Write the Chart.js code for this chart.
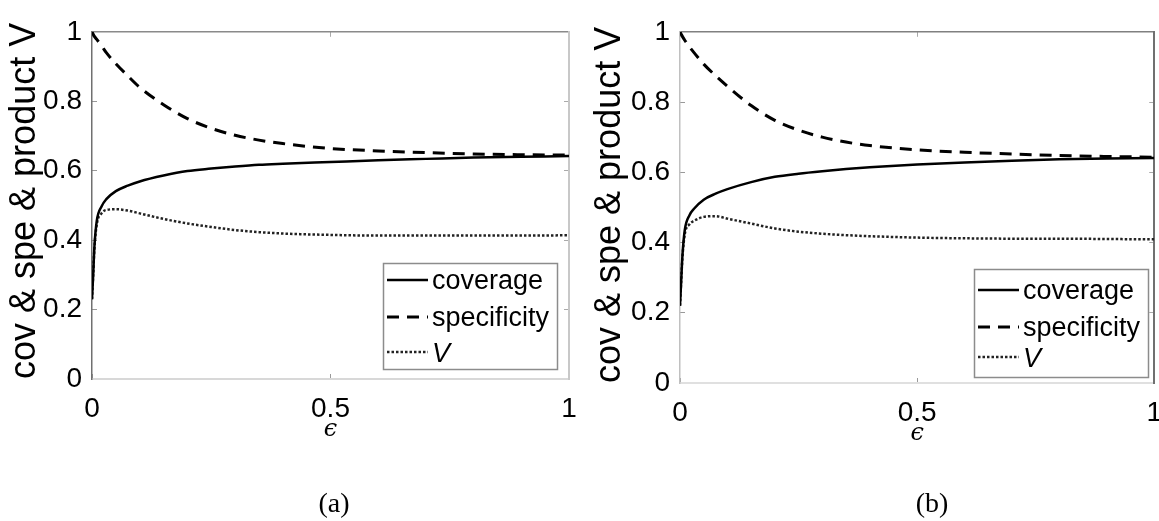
<!DOCTYPE html>
<html>
<head>
<meta charset="utf-8">
<script src="https://cdn.jsdelivr.net/npm/chart.js@4.4.1/dist/chart.umd.min.js"></script>
<style>
  html, body { margin: 0; padding: 0; background: #fff; overflow: hidden; width: 1159px; height: 521px; }
  canvas { position: absolute; top: 0; }
  #ca { left: 0; }
  #cb { left: 580px; }
  .cap { position: absolute; top: 489px; font-family: "Liberation Serif", "Times New Roman", serif; font-size: 28px; line-height: 1; transform: translateX(-50%); }
</style>
</head>
<body>
<canvas id="ca" width="600" height="521"></canvas>
<canvas id="cb" width="600" height="521"></canvas>
<div class="cap" style="left:334px">(a)</div>
<div class="cap" style="left:932px">(b)</div>
<script>
// epsilon values shared by both panels
var eps = [0, 0.0025, 0.005, 0.01, 0.02, 0.03, 0.05, 0.075, 0.1, 0.15, 0.2, 0.25, 0.3, 0.35, 0.4, 0.5, 0.6, 0.7, 0.8, 0.9, 1];

// panel (a)
var coverageA    = [0.23, 0.30, 0.38, 0.455, 0.497, 0.518, 0.541, 0.557, 0.569, 0.586, 0.599, 0.606, 0.612, 0.617, 0.620, 0.625, 0.630, 0.634, 0.638, 0.640, 0.642];
var specificityA = [1.0, 0.993, 0.987, 0.978, 0.96, 0.94, 0.908, 0.873, 0.84, 0.79, 0.75, 0.722, 0.702, 0.688, 0.678, 0.664, 0.657, 0.652, 0.648, 0.646, 0.645];
var productA     = [0.23, 0.30, 0.375, 0.445, 0.477, 0.487, 0.489, 0.485, 0.477, 0.461, 0.448, 0.438, 0.429, 0.423, 0.419, 0.415, 0.413, 0.413, 0.413, 0.413, 0.414];

// panel (b)
var coverageB    = [0.22, 0.29, 0.36, 0.435, 0.478, 0.497, 0.522, 0.539, 0.552, 0.572, 0.587, 0.596, 0.603, 0.609, 0.614, 0.622, 0.628, 0.633, 0.637, 0.639, 0.641];
var specificityB = [1.0, 0.993, 0.987, 0.976, 0.957, 0.94, 0.908, 0.875, 0.845, 0.79, 0.748, 0.72, 0.70, 0.686, 0.676, 0.664, 0.657, 0.652, 0.648, 0.645, 0.643];
var productB     = [0.22, 0.29, 0.355, 0.423, 0.452, 0.462, 0.473, 0.475, 0.468, 0.454, 0.440, 0.431, 0.425, 0.421, 0.418, 0.414, 0.412, 0.411, 0.411, 0.410, 0.409];

var yTicks = [0, 0.2, 0.4, 0.6, 0.8, 1];
var xTicks = [0, 0.5, 1];

var FONT = '"Liberation Sans", Arial, Helvetica, sans-serif';

function pts(vals) {
    return eps.map(function (e, i) { return { x: e, y: vals[i] }; });
}

function fmt(v) {
    return String(v);
}

// legend box drawn inside the plot area, MATLAB style
var boxLegend = {
    id: 'boxLegend',
    afterDraw: function (chart, args, opts) {
        var ctx = chart.ctx, area = chart.chartArea;
        var x = Math.round(area.right - opts.right - opts.width);
        var y = Math.round(area.bottom - opts.bottom - opts.height);
        ctx.save();
        ctx.fillStyle = '#fff';
        ctx.fillRect(x, y, opts.width, opts.height);
        ctx.strokeStyle = '#8c8c8c';
        ctx.lineWidth = 1.5;
        ctx.strokeRect(x + 0.5, y + 0.5, opts.width, opts.height);
        chart.data.datasets.forEach(function (ds, i) {
            var ry = y + opts.rows[i];
            ctx.beginPath();
            ctx.setLineDash(ds.borderDash || []);
            ctx.lineWidth = ds.borderWidth;
            ctx.strokeStyle = ds.borderColor;
            ctx.moveTo(x + 4, ry);
            ctx.lineTo(x + 45, ry);
            ctx.stroke();
            ctx.setLineDash([]);
            ctx.fillStyle = '#000';
            ctx.font = (ds.label === 'V' ? 'italic ' : '') + '27px ' + FONT;
            ctx.textBaseline = 'middle';
            ctx.fillText(ds.label, x + 49, ry + 2);
        });
        ctx.restore();
    }
};

function makeChart(id, cov, spe, prod, p) {
    var tickFont = { family: FONT, size: 28 };
    return new Chart(document.getElementById(id), {
        type: 'line',
        data: {
            datasets: [
                { label: 'coverage', data: pts(cov), borderColor: '#000', borderWidth: 2.5, borderDash: [] },
                { label: 'specificity', data: pts(spe), borderColor: '#000', borderWidth: 3, borderDash: [12, 8] },
                { label: 'V', data: pts(prod), borderColor: '#222', borderWidth: 2.5, borderDash: [2.5, 2] }
            ]
        },
        options: {
            responsive: false,
            animation: false,
            layout: { padding: { left: 0, top: 19, right: p.padRight, bottom: 0 } },
            elements: {
                point: { radius: 0 },
                line: { cubicInterpolationMode: 'monotone', fill: false }
            },
            plugins: {
                legend: { display: false },
                tooltip: { enabled: false },
                boxLegend: p.legend
            },
            scales: {
                x: {
                    type: 'linear', position: 'bottom', min: 0, max: 1,
                    afterBuildTicks: function (s) { s.ticks = xTicks.map(function (v) { return { value: v }; }); },
                    ticks: { color: '#000', font: tickFont, padding: 18, maxRotation: 0, autoSkip: false, callback: fmt },
                    grid: { drawOnChartArea: false, tickLength: -5, color: '#999' },
                    border: { color: p.bottomColor, width: 2 },
                    title: {
                        display: true, text: 'ϵ', color: '#000',
                        font: { family: '"DejaVu Serif", "Liberation Serif", serif', size: 24, style: 'italic', lineHeight: 1 },
                        padding: { top: 0, bottom: p.epsPad }
                    },
                    afterFit: function (s) { s.height = p.xHeight; }
                },
                x2: {
                    type: 'linear', position: 'top', min: 0, max: 1,
                    afterBuildTicks: function (s) { s.ticks = xTicks.map(function (v) { return { value: v }; }); },
                    ticks: { display: false },
                    grid: { drawOnChartArea: false, tickLength: -5, color: '#aaa' },
                    border: { color: p.topColor, width: 1.5 },
                    afterFit: function (s) { s.height = 0; }
                },
                y: {
                    type: 'linear', position: 'left', min: 0, max: 1,
                    afterBuildTicks: function (s) { s.ticks = yTicks.map(function (v) { return { value: v }; }); },
                    ticks: { color: '#000', font: tickFont, padding: 15, callback: fmt },
                    grid: { drawOnChartArea: false, tickLength: -5, color: '#999' },
                    border: { color: p.leftColor, width: 1.5 },
                    title: {
                        display: true, text: 'cov & spe & product V', color: '#000', align: 'start',
                        font: { family: FONT, size: 36, lineHeight: 1 },
                        padding: { top: p.titlePad, bottom: 0 }
                    },
                    afterFit: function (s) { s.width = p.yWidth; }
                },
                y2: {
                    type: 'linear', position: 'right', min: 0, max: 1,
                    afterBuildTicks: function (s) { s.ticks = yTicks.map(function (v) { return { value: v }; }); },
                    ticks: { display: false },
                    grid: { drawOnChartArea: false, tickLength: -5, color: '#aaa' },
                    border: { color: p.rightColor, width: 2 },
                    afterFit: function (s) { s.width = 0; }
                }
            }
        },
        plugins: [boxLegend]
    });
}

makeChart('ca', coverageA, specificityA, productA, {
    padRight: 31, yWidth: 92, xHeight: 142, epsPad: 79, titlePad: 7,
    leftColor: '#707070', topColor: '#8a8a8a', rightColor: '#c8c8c8', bottomColor: '#d8d8d8',
    legend: { right: 12, bottom: 10, width: 174, height: 106, rows: [17, 54, 89] }
});

makeChart('cb', coverageB, specificityB, productB, {
    padRight: 25, yWidth: 100, xHeight: 138, epsPad: 75, titlePad: 12,
    leftColor: '#c0c0c0', topColor: '#808080', rightColor: '#707070', bottomColor: '#e0e0e0',
    legend: { right: 6, bottom: 6, width: 174, height: 108, rows: [21, 58, 88] }
});
</script>
</body>
</html>
